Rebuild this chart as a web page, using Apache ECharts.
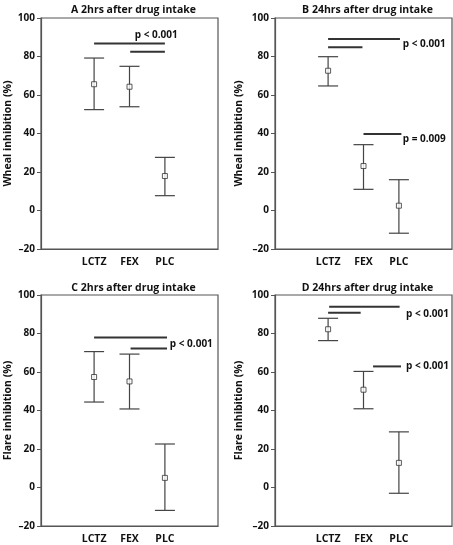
<!DOCTYPE html>
<html><head><meta charset="utf-8">
<script src="https://cdn.jsdelivr.net/npm/echarts@6/dist/echarts.min.js"></script>
<style>html,body{margin:0;padding:0;background:#fff}#c{width:453px;height:545px}</style>
</head><body><div id="c"></div>
<script>
// ---- data ----
const categories = ['LCTZ', 'FEX', 'PLC'];
const yTicks = [-20, 0, 20, 40, 60, 80, 100];

const titles = ['A 2hrs after drug intake', 'B 24hrs after drug intake', 'C 2hrs after drug intake', 'D 24hrs after drug intake'];
const yNames = ['Wheal inhibition (%)', 'Wheal inhibition (%)', 'Flare inhibition (%)', 'Flare inhibition (%)'];

const wheal2hMean  = [65.6, 64.3, 17.9];
const wheal2hUpper = [79.2, 74.9, 27.6];
const wheal2hLower = [52.4, 53.9, 7.7];

const wheal24hMean  = [72.6, 23.1, 2.5];
const wheal24hUpper = [79.9, 34.2, 16.0];
const wheal24hLower = [64.7, 11.0, -11.8];

const flare2hMean  = [57.4, 55.1, 5.0];
const flare2hUpper = [70.6, 69.3, 22.6];
const flare2hLower = [44.4, 40.8, -11.9];

const flare24hMean  = [82.2, 50.8, 12.8];
const flare24hUpper = [87.9, 60.3, 28.9];
const flare24hLower = [76.3, 40.9, -3.0];

// significance bars: [fromCategoryPos, toCategoryPos, level]
const sigA = [[0, 2, 86.8], [1.02, 2, 82.5]];
const sigB = [[0, 2.03, 89.1], [0, 0.97, 84.8], [1, 2.07, 39.7]];
const sigC = [[0, 2.06, 77.9], [1.03, 2.06, 72.2]];
const sigD = [[0.03, 2.02, 93.9], [0, 0.92, 90.8], [1.27, 2.06, 62.9]];

// p-value labels: [text, categoryPos, level]
const pA = [['p < 0.001', 1.15, 91.2]];
const pB = [['p < 0.001', 2.11, 86.3], ['p = 0.009', 2.11, 37.3]];
const pC = [['p < 0.001', 2.14, 74.6]];
const pD = [['p < 0.001', 2.2, 89.9], ['p < 0.001', 2.2, 62.9]];

// ---- build ----
const panels = [
  {mean: wheal2hMean, up: wheal2hUpper, lo: wheal2hLower, sig: sigA, p: pA},
  {mean: wheal24hMean, up: wheal24hUpper, lo: wheal24hLower, sig: sigB, p: pB},
  {mean: flare2hMean, up: flare2hUpper, lo: flare2hLower, sig: sigC, p: pC},
  {mean: flare24hMean, up: flare24hUpper, lo: flare24hLower, sig: sigD, p: pD}
];
const FONT = '"Open Sans"';
const boxes = [
  {left: 41, top: 18, width: 177, height: 231},
  {left: 275, top: 18, width: 177, height: 231},
  {left: 41, top: 295, width: 177, height: 232},
  {left: 275, top: 295, width: 177, height: 232}
];
const catAxisData = [''].concat(categories, ['']);

const grid = [], xAxis = [], yAxis = [], series = [], title = [];
panels.forEach((p, i) => {
  const b = boxes[i];
  grid.push({left: b.left, top: b.top, width: b.width, height: b.height,
    show: true, borderColor: '#555', borderWidth: 1.2, backgroundColor: 'transparent'});
  title.push({text: titles[i], left: b.left + b.width / 2 - 1, top: b.top - (i < 2 ? 18 : 17), textAlign: 'center',
    textStyle: {fontFamily: FONT, fontWeight: 'bold', fontSize: 10.5, color: '#111'}});
  xAxis.push({type: 'category', gridIndex: i, data: catAxisData, boundaryGap: true,
    axisTick: {show: false}, axisLine: {show: true, onZero: false, lineStyle: {color: '#555', width: 1.2}},
    axisLabel: {fontFamily: FONT, fontWeight: 'bold', fontSize: 10.5, color: '#111', margin: 8, interval: 0},
    splitLine: {show: false}});
  xAxis.push({type: 'value', gridIndex: i, min: -1.5, max: 3.5, show: false, axisLine: {onZero: false}});
  yAxis.push({type: 'value', gridIndex: i, min: yTicks[0], max: yTicks[yTicks.length - 1], interval: 20,
    name: yNames[i], nameLocation: 'middle', nameGap: i % 2 === 0 ? 27 : 30, nameRotate: 90,
    nameTextStyle: {fontFamily: FONT, fontWeight: 'bold', fontSize: 10.5, color: '#111'},
    axisLine: {show: true, onZero: false, lineStyle: {color: '#555', width: 1.2}},
    axisTick: {show: true, length: 4, lineStyle: {color: '#555'}},
    axisLabel: {fontFamily: FONT, fontWeight: 'bold', fontSize: 10, color: '#111', margin: 6,
      formatter: v => String(v).replace('-', '\u2013')},
    splitLine: {show: false}});
  const catX = 2 * i, valX = 2 * i + 1;
  // error bars
  series.push({type: 'custom', xAxisIndex: catX, yAxisIndex: i,
    data: categories.map((c, j) => [j + 1, p.lo[j], p.up[j]]),
    renderItem: function (params, api) {
      const t = api.coord([api.value(0), api.value(2)]);
      const bt = api.coord([api.value(0), api.value(1)]);
      const hw = 10;
      const st = {stroke: '#444', lineWidth: 1.2};
      return {type: 'group', children: [
        {type: 'line', shape: {x1: t[0], y1: t[1], x2: bt[0], y2: bt[1]}, style: st},
        {type: 'line', shape: {x1: t[0] - hw, y1: t[1], x2: t[0] + hw, y2: t[1]}, style: st},
        {type: 'line', shape: {x1: bt[0] - hw, y1: bt[1], x2: bt[0] + hw, y2: bt[1]}, style: st}
      ]};
    }, z: 2, silent: true});
  // means
  series.push({type: 'scatter', xAxisIndex: catX, yAxisIndex: i,
    data: categories.map((c, j) => [j + 1, p.mean[j]]),
    symbol: 'rect', symbolSize: 5,
    itemStyle: {color: '#fff', borderColor: '#333', borderWidth: 1}, z: 5, silent: true});
  // significance bars
  series.push({type: 'custom', xAxisIndex: valX, yAxisIndex: i, data: p.sig,
    renderItem: function (params, api) {
      const a = api.coord([api.value(0), api.value(2)]);
      const c = api.coord([api.value(1), api.value(2)]);
      return {type: 'line', shape: {x1: a[0], y1: a[1], x2: c[0], y2: c[1]}, style: {stroke: '#333', lineWidth: 2}};
    }, z: 3, silent: true});
  // p labels
  series.push({type: 'custom', xAxisIndex: valX, yAxisIndex: i,
    data: p.p.map(q => [q[1], q[2]]),
    renderItem: function (params, api) {
      const a = api.coord([api.value(0), api.value(1)]);
      const txt = p.p[params.dataIndex][0];
      return {type: 'text', x: a[0], y: a[1], style: {text: txt, fill: '#111',
        font: 'bold 10px ' + FONT, textAlign: 'left', textVerticalAlign: 'middle'}};
    }, z: 4, silent: true});
});

const chart = echarts.init(document.getElementById('c'), null, {renderer: 'canvas'});
chart.setOption({animation: false, backgroundColor: '#fff', title, grid, xAxis, yAxis, series});
</script>
</body></html>
